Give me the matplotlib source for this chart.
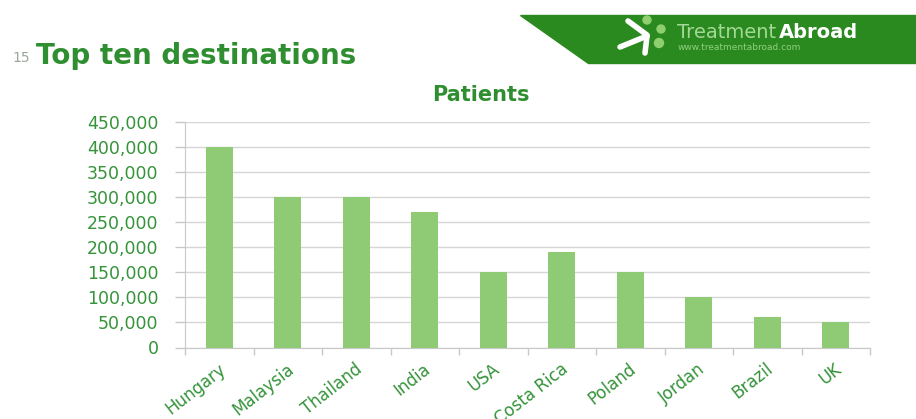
import matplotlib.pyplot as plt
from matplotlib.patches import Polygon, Circle
from matplotlib.lines import Line2D
from matplotlib.transforms import ScaledTranslation
import numpy as np

# patients per destination country
countries = ['Hungary', 'Malaysia', 'Thailand', 'India', 'USA',
             'Costa Rica', 'Poland', 'Jordan', 'Brazil', 'UK']
patients = [400000, 300000, 300000, 270000, 150000,
            190000, 150000, 100000, 60000, 50000]
yticks = [0, 50000, 100000, 150000, 200000, 250000, 300000, 350000, 400000, 450000]

BAR = '#8fcb74'
LABEL = '#35933a'
TITLE = '#2f8f30'
BANNER = '#2b8a1f'

W, H = 916, 419
fig = plt.figure(figsize=(W / 100, H / 100), dpi=100)
plt.rcParams['font.family'] = ['DejaVu Sans']

ax = fig.add_axes([185 / W, 1 - 347.5 / H, 685 / W, 225.8 / H])
x = np.arange(len(countries))
ax.bar(x, patients, width=0.4, color=BAR, zorder=3)

ax.set_xlim(-0.5, len(countries) - 0.5)
ax.set_ylim(0, 450000)
ax.set_yticks(yticks)
ax.set_yticklabels([f'{v:,}' for v in yticks], color=LABEL, fontsize=12.5)
ax.tick_params(axis='y', length=7, width=1, color='#c8c8c8', pad=12)
ax.grid(axis='y', color='#d6d6d6', lw=1, zorder=0)

ax.set_xticks(x)
ax.set_xticklabels(countries, rotation=38, ha='right', va='center',
                   rotation_mode='anchor', color=LABEL, fontsize=12)
ax.tick_params(axis='x', which='major', length=0, pad=14)
shift = ScaledTranslation(4 / 100, 0, fig.dpi_scale_trans)
for lab in ax.get_xticklabels():
    lab.set_transform(lab.get_transform() + shift)
ax.set_xticks(np.arange(-0.5, len(countries)), minor=True)
ax.tick_params(axis='x', which='minor', length=5, width=1, color='#c8c8c8')

for s in ['top', 'right']:
    ax.spines[s].set_visible(False)
for s in ['left', 'bottom']:
    ax.spines[s].set_color('#c8c8c8')

ax.set_title('Patients', color=TITLE, fontsize=15, fontweight='bold',
             x=(481 - 185) / 685, pad=15)

# slide heading
fig.text(12 / W, 1 - 58 / H, '15', color='#9aa59a', fontsize=10, va='center')
fig.text(36 / W, 1 - 56 / H, 'Top ten destinations', color=TITLE,
         fontsize=20, fontweight='bold', va='center')

# banner in the top right corner (pixel coords measured from the top)
def px(xp, yp):
    return xp / W, 1 - yp / H

banner = Polygon([px(520, 15), px(W, 15), px(W, 63), px(588, 63)], closed=True,
                 transform=fig.transFigure, color=BANNER)
fig.patches.append(banner)

icon = [((620, 47), (647, 36)), ((628, 21), (647, 35)), ((647, 36), (645, 53))]
for a, b in icon:
    (x0, y0), (x1, y1) = px(*a), px(*b)
    fig.lines.append(Line2D([x0, x1], [y0, y1], transform=fig.transFigure,
                            color='white', lw=4, solid_capstyle='round'))
for cx, cy, r in [(647, 20, 4), (661, 29, 4), (659, 43, 4.5)]:
    fig.patches.append(Circle((cx, H - cy), r, transform=None, color='#8fcf6f'))

t1 = fig.text(677 / W, 1 - 33 / H, 'Treatment', color='#a4d896', fontsize=14,
              va='center')
renderer = fig.canvas.get_renderer()
x_end = t1.get_window_extent(renderer).x1
fig.text(x_end / W + 3 / W, 1 - 33 / H, 'Abroad', color='white', fontsize=14,
         fontweight='bold', va='center')
fig.text(678 / W, 1 - 47 / H, 'www.treatmentabroad.com', color='#8fcf7f',
         fontsize=6.5, va='center')

fig.savefig('out.png', dpi=100)
